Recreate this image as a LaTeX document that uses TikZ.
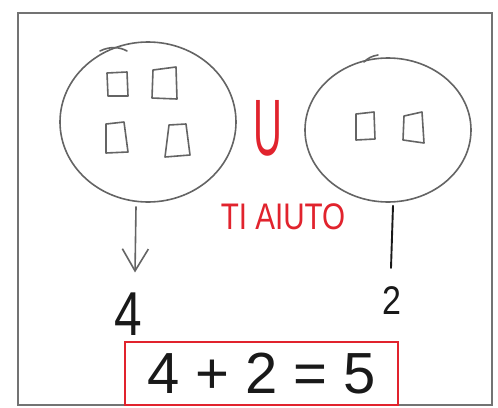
\documentclass[tikz,border=0pt]{standalone}
\usepackage{fontspec}
\setmainfont{Liberation Sans}
\usetikzlibrary{shapes.geometric,arrows.meta}
\definecolor{pencilgray}{RGB}{100,100,100}
\definecolor{framegray}{RGB}{115,115,115}
\definecolor{inkred}{RGB}{225,35,45}
\definecolor{inkblack}{RGB}{25,25,25}
\begin{document}
\begin{tikzpicture}[x=1pt,y=-1pt,
  pencil/.style={draw=pencilgray, line width=1.6pt, line join=round, line cap=round},
  setcircle/.style={ellipse, pencil, inner sep=0pt},
  bigdigit/.style={inner sep=0pt, text=inkblack},
  redtext/.style={inner sep=0pt, text=inkred},
  resultbox/.style={draw=inkred, line width=2pt, inner sep=0pt, text=inkblack}]
\useasboundingbox (0,0) rectangle (498,407);
\fill[white] (0,0) rectangle (498,407);
% frame
\draw[draw=framegray, line width=2.2pt] (18,13) rectangle (492,405);
% sets
\node[setcircle, minimum width=176pt, minimum height=160pt] (setA) at (148,122) {};
\node[setcircle, minimum width=166pt, minimum height=144pt] (setB) at (388,130) {};
\draw[pencil] (100,51) .. controls (110,46) and (120,47) .. (127,51);
\draw[pencil] (364,62) .. controls (368,58) and (372,56) .. (378,55);
% elements
\draw[pencil] (107,73) -- (127,72) -- (128,96) -- (108,96) -- cycle;
\draw[pencil] (153,70) -- (176,67) -- (177,99) -- (152,98) -- cycle;
\draw[pencil] (106,124) -- (124,122) -- (128,152) -- (106,153) -- cycle;
\draw[pencil] (169,125) -- (186,124) -- (190,155) -- (165,157) -- cycle;
\draw[pencil] (356,114) -- (374,112) -- (375,139) -- (356,140) -- cycle;
\draw[pencil] (404,116) -- (422,112) -- (424,143) -- (403,140) -- cycle;
% texts
\node[redtext, font=\fontsize{80}{80}\selectfont, xscale=0.5] (union) at (268,128) {U};
\node[redtext, font=\fontsize{37}{37}\selectfont, xscale=0.8] (help) at (283,217) {TI AIUTO};
\node[bigdigit, font=\fontsize{62}{62}\selectfont, xscale=0.8] (four) at (128,314) {4};
\node[bigdigit, font=\fontsize{40}{40}\selectfont, xscale=0.85] (two) at (392,301) {2};
\node[resultbox, minimum width=273pt, minimum height=63pt, font=\fontsize{58}{58}\selectfont] (sum) at (261.5,373.5) {4 + 2 = 5};
% connectors
\draw[pencil, -{Straight Barb[length=22pt,width=26pt,line width=1.6pt]}]
  ([xshift=-12pt,yshift=-4pt]setA.south) -- ([xshift=7pt,yshift=20pt]four.north);
\draw[draw=inkblack, line width=1.9pt, line cap=round]
  ([xshift=5pt,yshift=-3pt]setB.south) -- ([xshift=-1pt,yshift=19pt]two.north);
\end{tikzpicture}
\end{document}
